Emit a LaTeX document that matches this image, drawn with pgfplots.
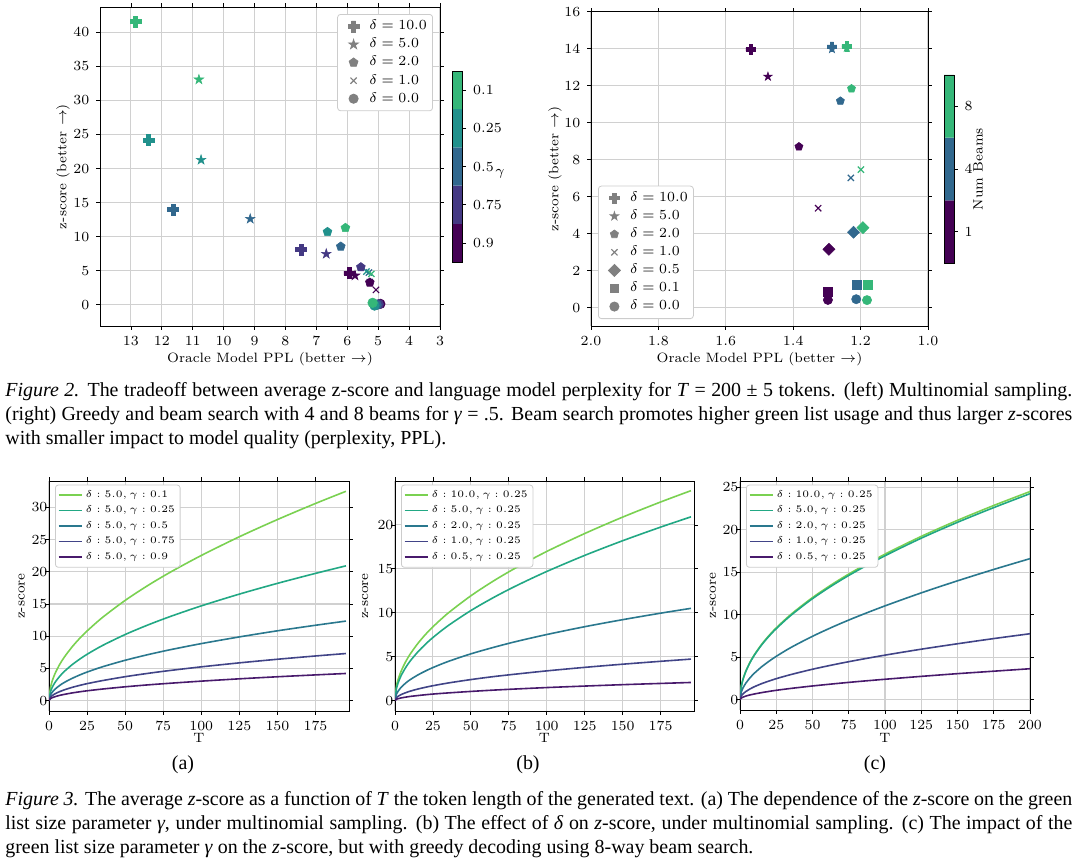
\documentclass[border=0pt]{standalone}
\usepackage{fontspec}
\usepackage{pgfplots}
\pgfplotsset{compat=1.18}
\usetikzlibrary{plotmarks}
\newfontfamily\capfont{Liberation Serif}

\definecolor{c01}{HTML}{35B779}
\definecolor{c025}{HTML}{21918C}
\definecolor{c05}{HTML}{31688E}
\definecolor{c075}{HTML}{443983}
\definecolor{c09}{HTML}{440154}
\definecolor{l1}{HTML}{7AD151}
\definecolor{l2}{HTML}{22A884}
\definecolor{l3}{HTML}{2A788E}
\definecolor{l4}{HTML}{414487}
\definecolor{l5}{HTML}{481A6C}
\definecolor{gridc}{HTML}{D0D0D0}
\definecolor{legc}{HTML}{CCCCCC}
\definecolor{mgray}{HTML}{808080}

\pgfdeclareplotmark{Pfill}{%
  \pgfpathmoveto{\pgfqpoint{-\pgfplotmarksize}{-0.36\pgfplotmarksize}}%
  \pgfpathlineto{\pgfqpoint{-0.36\pgfplotmarksize}{-0.36\pgfplotmarksize}}%
  \pgfpathlineto{\pgfqpoint{-0.36\pgfplotmarksize}{-\pgfplotmarksize}}%
  \pgfpathlineto{\pgfqpoint{0.36\pgfplotmarksize}{-\pgfplotmarksize}}%
  \pgfpathlineto{\pgfqpoint{0.36\pgfplotmarksize}{-0.36\pgfplotmarksize}}%
  \pgfpathlineto{\pgfqpoint{\pgfplotmarksize}{-0.36\pgfplotmarksize}}%
  \pgfpathlineto{\pgfqpoint{\pgfplotmarksize}{0.36\pgfplotmarksize}}%
  \pgfpathlineto{\pgfqpoint{0.36\pgfplotmarksize}{0.36\pgfplotmarksize}}%
  \pgfpathlineto{\pgfqpoint{0.36\pgfplotmarksize}{\pgfplotmarksize}}%
  \pgfpathlineto{\pgfqpoint{-0.36\pgfplotmarksize}{\pgfplotmarksize}}%
  \pgfpathlineto{\pgfqpoint{-0.36\pgfplotmarksize}{0.36\pgfplotmarksize}}%
  \pgfpathlineto{\pgfqpoint{-\pgfplotmarksize}{0.36\pgfplotmarksize}}%
  \pgfpathclose
  \pgfusepathqfillstroke}
\pgfdeclareplotmark{Sfill}{%
  \pgfpathmoveto{\pgfqpoint{0pt}{\pgfplotmarksize}}%
  \pgfpathlineto{\pgfqpoint{-0.2245\pgfplotmarksize}{0.309\pgfplotmarksize}}%
  \pgfpathlineto{\pgfqpoint{-0.951\pgfplotmarksize}{0.309\pgfplotmarksize}}%
  \pgfpathlineto{\pgfqpoint{-0.3633\pgfplotmarksize}{-0.118\pgfplotmarksize}}%
  \pgfpathlineto{\pgfqpoint{-0.588\pgfplotmarksize}{-0.809\pgfplotmarksize}}%
  \pgfpathlineto{\pgfqpoint{0pt}{-0.382\pgfplotmarksize}}%
  \pgfpathlineto{\pgfqpoint{0.588\pgfplotmarksize}{-0.809\pgfplotmarksize}}%
  \pgfpathlineto{\pgfqpoint{0.3633\pgfplotmarksize}{-0.118\pgfplotmarksize}}%
  \pgfpathlineto{\pgfqpoint{0.951\pgfplotmarksize}{0.309\pgfplotmarksize}}%
  \pgfpathlineto{\pgfqpoint{0.2245\pgfplotmarksize}{0.309\pgfplotmarksize}}%
  \pgfpathclose
  \pgfusepathqfillstroke}
\pgfdeclareplotmark{Dfill}{%
  \pgfpathmoveto{\pgfqpoint{0pt}{\pgfplotmarksize}}%
  \pgfpathlineto{\pgfqpoint{\pgfplotmarksize}{0pt}}%
  \pgfpathlineto{\pgfqpoint{0pt}{-\pgfplotmarksize}}%
  \pgfpathlineto{\pgfqpoint{-\pgfplotmarksize}{0pt}}%
  \pgfpathclose
  \pgfusepathqfillstroke}

\pgfplotsset{
  mplbase/.style={
    scale only axis,
    axis line style={line width=0.45bp,black},
    tick align=outside,
    major tick length=1.8bp,
    tick style={line width=0.4bp,black},
    grid=major,
    major grid style={line width=0.55bp,gridc},
    tick label style={font=\fontsize{6.6}{7}\selectfont},
    label style={font=\fontsize{6.8}{7}\selectfont},
    xlabel style={anchor=center},
    ylabel style={anchor=center},
  },
  topleg/.style={
    legend style={draw=legc, line width=0.4bp, rounded corners=1.5bp, fill=white,
      font=\fontsize{6.6}{7}\selectfont, inner sep=1.5bp, row sep=0pt,
      nodes={inner sep=1.35bp}, cells={anchor=west}},
    legend image code/.code={\path[draw=none,fill=none] (0bp,-2bp) rectangle (13bp,2bp);
      \draw[##1] plot coordinates {(6.5bp,0bp)};},
  },
  botleg/.style={
    yticklabel style={inner sep=0pt, xshift=1.2bp},
    legend style={draw=legc, line width=0.4bp, rounded corners=1.5bp, fill=white,
      font=\fontsize{5.2}{6}\selectfont, inner sep=1.2bp, row sep=0pt,
      nodes={inner sep=1.4bp}, cells={anchor=west},
      at={(axis description cs:0,1)}, anchor=north west, xshift=3bp, yshift=-1.8bp},
    legend image code/.code={\draw[##1, line width=0.8bp] (0bp,0bp) -- (11.7bp,0bp);},
  },
  gcls/.style={scatter/classes={
      a={draw=c01,fill=c01}, b={draw=c025,fill=c025}, c={draw=c05,fill=c05},
      d={draw=c075,fill=c075}, e={draw=c09,fill=c09}}},
  bcls/.style={scatter/classes={
      e={draw=c09,fill=c09}, c={draw=c05,fill=c05}, a={draw=c01,fill=c01}}},
  sc/.style={scatter, only marks, scatter src=explicit symbolic, forget plot,
      mark options={line width=0.3bp}},
  zl/.style={line width=0.8bp, smooth},
}

\begin{document}
\begin{tikzpicture}
\useasboundingbox (0bp,0bp) rectangle (540bp,-429bp);

% ---------------- Figure 2 left ----------------
\begin{axis}[mplbase, topleg, gcls,
  at={(50bp,-163bp)}, anchor=south west, width=170bp, height=159.5bp,
  x dir=reverse, xmin=3, xmax=14, ymin=-3.1, ymax=43.7,
  xtick={3,4,...,13}, ytick={0,5,...,40},
  xlabel={Oracle Model PPL (better $\rightarrow$)},
  ylabel={z-score (better $\rightarrow$)},
  xlabel style={at={(axis description cs:0.5,-0.1034)}},
  ylabel style={at={(axis description cs:-0.1088,0.5)}},
  legend style={at={(axis description cs:1,1)}, xshift=-3.5bp, yshift=-3.5bp, anchor=north east},
]
\addlegendimage{only marks, mark=Pfill, mark size=2.75bp, mgray}
\addlegendentry{$\delta=10.0$}
\addlegendimage{only marks, mark=Sfill, mark size=2.5bp, mgray}
\addlegendentry{$\delta=5.0$}
\addlegendimage{only marks, mark=pentagon*, mark size=2.3bp, mgray}
\addlegendentry{$\delta=2.0$}
\addlegendimage{only marks, mark=x, mark size=2.2bp, mgray, mark options={line width=0.55bp}}
\addlegendentry{$\delta=1.0$}
\addlegendimage{only marks, mark=*, mark size=2.3bp, mgray}
\addlegendentry{$\delta=0.0$}

\addplot[sc, mark=Pfill, mark size=2.75bp] table[meta=g] {
x y g
12.85 41.56 a
12.43 24.16 b
11.63 13.99 c
7.49 8.12 d
5.93 4.65 e
};
\addplot[sc, mark=Sfill, mark size=2.5bp] table[meta=g] {
x y g
10.80 33.06 a
10.73 21.27 b
9.14 12.62 c
6.68 7.48 d
5.75 4.30 e
};
\addplot[sc, mark=x, mark size=2.2bp, mark options={line width=0.6bp}] table[meta=g] {
x y g
5.27 3.35 d
5.30 4.75 c
5.38 4.90 b
5.22 4.55 a
5.07 2.20 e
};
\addplot[sc, mark=pentagon*, mark size=2.3bp] table[meta=g] {
x y g
6.06 11.30 a
6.64 10.71 b
6.21 8.56 c
5.56 5.53 d
5.27 3.28 e
};
\addplot[sc, mark=*, mark size=2.4bp] table[meta=g] {
x y g
4.93 0.15 e
4.98 0.10 d
5.05 0.00 c
5.12 -0.10 b
5.18 0.30 a
};
\end{axis}

% colorbar gamma
\begin{axis}[scale only axis, at={(226.3bp,-131bp)}, anchor=south west,
  width=5bp, height=95.5bp, xmin=0, xmax=1, ymin=0, ymax=5,
  axis on top, axis line style={line width=0.45bp,black},
  xtick=\empty, ytick={0.5,1.5,2.5,3.5,4.5},
  yticklabels={$0.9$,$0.75$,$0.5$,$0.25$,$0.1$},
  ytick pos=right, yticklabel pos=right, tick align=outside,
  major tick length=1.8bp, tick style={line width=0.4bp,black},
  tick label style={font=\fontsize{6.6}{7}\selectfont},
]
\addplot[draw=none, fill=c09] coordinates {(0,0) (1,0) (1,1) (0,1) (0,0)};
\addplot[draw=none, fill=c075] coordinates {(0,1) (1,1) (1,2) (0,2) (0,1)};
\addplot[draw=none, fill=c05] coordinates {(0,2) (1,2) (1,3) (0,3) (0,2)};
\addplot[draw=none, fill=c025] coordinates {(0,3) (1,3) (1,4) (0,4) (0,3)};
\addplot[draw=none, fill=c01] coordinates {(0,4) (1,4) (1,5) (0,5) (0,4)};
\end{axis}
\node[font=\fontsize{6.8}{7}\selectfont] at (250bp,-87bp) {$\gamma$};

% ---------------- Figure 2 right ----------------
\begin{axis}[mplbase, topleg, bcls,
  at={(295.5bp,-163bp)}, anchor=south west, width=168.5bp, height=157.15bp,
  x dir=reverse, xmin=1, xmax=2, ymin=-1, ymax=16,
  xtick={1.0,1.2,...,2.0}, ytick={0,2,...,16},
  xticklabel style={/pgf/number format/.cd, fixed, fixed zerofill, precision=1},
  xlabel={Oracle Model PPL (better $\rightarrow$)},
  ylabel={z-score (better $\rightarrow$)},
  xlabel style={at={(axis description cs:0.5,-0.105)}},
  ylabel style={at={(axis description cs:-0.1068,0.5)}},
  legend style={at={(axis description cs:0,0)}, xshift=3.5bp, yshift=3.5bp, anchor=south west},
]
\addlegendimage{only marks, mark=Pfill, mark size=2.4bp, mgray}
\addlegendentry{$\delta=10.0$}
\addlegendimage{only marks, mark=Sfill, mark size=2.2bp, mgray}
\addlegendentry{$\delta=5.0$}
\addlegendimage{only marks, mark=pentagon*, mark size=2.1bp, mgray}
\addlegendentry{$\delta=2.0$}
\addlegendimage{only marks, mark=x, mark size=2.2bp, mgray, mark options={line width=0.55bp}}
\addlegendentry{$\delta=1.0$}
\addlegendimage{only marks, mark=Dfill, mark size=3.0bp, mgray}
\addlegendentry{$\delta=0.5$}
\addlegendimage{only marks, mark=square*, mark size=2.2bp, mgray}
\addlegendentry{$\delta=0.1$}
\addlegendimage{only marks, mark=*, mark size=2.3bp, mgray}
\addlegendentry{$\delta=0.0$}

\addplot[sc, mark=Sfill, mark size=2.2bp] table[meta=g] {
x y g
1.475 12.49 e
1.285 13.98 c
1.241 14.05 a
};
\addplot[sc, mark=Pfill, mark size=2.4bp] table[meta=g] {
x y g
1.526 13.96 e
1.285 14.11 c
1.241 14.14 a
};
\addplot[sc, mark=pentagon*, mark size=2.1bp] table[meta=g] {
x y g
1.383 8.70 e
1.260 11.17 c
1.227 11.84 a
};
\addplot[sc, mark=x, mark size=2.2bp, mark options={line width=0.6bp}] table[meta=g] {
x y g
1.326 5.37 e
1.229 7.01 c
1.199 7.46 a
};
\addplot[sc, mark=Dfill, mark size=3.0bp] table[meta=g] {
x y g
1.294 3.15 e
1.221 4.07 c
1.193 4.32 a
};
\addplot[sc, mark=square*, mark size=2.2bp] table[meta=g] {
x y g
1.297 0.86 e
1.211 1.23 c
1.179 1.23 a
};
\addplot[sc, mark=*, mark size=2.3bp] table[meta=g] {
x y g
1.297 0.41 e
1.213 0.45 c
1.181 0.40 a
};
\end{axis}

% colorbar beams
\begin{axis}[scale only axis, at={(472bp,-131.5bp)}, anchor=south west,
  width=5bp, height=94bp, xmin=0, xmax=1, ymin=0, ymax=3,
  axis on top, axis line style={line width=0.45bp,black},
  xtick=\empty, ytick={0.5,1.5,2.5},
  yticklabels={$1$,$4$,$8$},
  ytick pos=right, yticklabel pos=right, tick align=outside,
  major tick length=1.8bp, tick style={line width=0.4bp,black},
  tick label style={font=\fontsize{6.6}{7}\selectfont},
]
\addplot[draw=none, fill=c09] coordinates {(0,0) (1,0) (1,1) (0,1) (0,0)};
\addplot[draw=none, fill=c05] coordinates {(0,1) (1,1) (1,2) (0,2) (0,1)};
\addplot[draw=none, fill=c01] coordinates {(0,2) (1,2) (1,3) (0,3) (0,2)};
\end{axis}
\node[font=\fontsize{6.8}{7}\selectfont, rotate=90] at (489bp,-84.5bp) {Num Beams};

% ---------------- captions Figure 2 ----------------
\node[anchor=base west, inner sep=0pt, font=\capfont\fontsize{10}{12}\selectfont] at (2.5bp,-198bp)
 {\makebox[533.5bp][s]{\textit{Figure 2.} The tradeoff between average z-score and language model perplexity for \textit{T} = 200 ± 5 tokens. (left) Multinomial sampling.}};
\node[anchor=base west, inner sep=0pt, font=\capfont\fontsize{10}{12}\selectfont] at (2.5bp,-210bp)
 {\makebox[533.5bp][s]{(right) Greedy and beam search with 4 and 8 beams for \textit{γ} = .5. Beam search promotes higher green list usage and thus larger \textit{z}-scores}};
\node[anchor=base west, inner sep=0pt, font=\capfont\fontsize{10}{12}\selectfont] at (2.5bp,-222bp)
 {with smaller impact to model quality (perplexity, PPL).};

% ---------------- Figure 3 (a) ----------------
\begin{axis}[mplbase, botleg,
  at={(24.5bp,-355.5bp)}, anchor=south west, width=150bp, height=115bp,
  xmin=0, xmax=197, ymin=-1.63, ymax=34.1,
  xtick={0,25,...,175}, ytick={0,5,...,30},
  xlabel={T}, ylabel={z-score},
  xlabel style={at={(axis description cs:0.5,-0.117)}},
  ylabel style={at={(axis description cs:-0.091,0.5)}},
]
\addplot[l1, zl] coordinates {(0,0) (1,2.09) (2,2.96) (4,4.21) (7,5.60) (10,6.72) (15,8.28) (20,9.62) (25,10.8) (35,12.88) (50,15.55) (65,17.88) (80,19.98) (100,22.53) (125,25.44) (150,28.11) (175,30.61) (195,32.5)};
\addlegendentry{$\delta: 5.0, \gamma: 0.1$}
\addplot[l2, zl] coordinates {(0,0) (1,1.41) (2,1.99) (4,2.83) (7,3.75) (10,4.50) (15,5.53) (20,6.40) (25,7.18) (35,8.53) (50,10.25) (65,11.74) (80,13.08) (100,14.70) (125,16.53) (150,18.20) (175,19.75) (195,20.92)};
\addlegendentry{$\delta: 5.0, \gamma: 0.25$}
\addplot[l3, zl] coordinates {(0,0) (1,0.88) (2,1.25) (4,1.77) (7,2.34) (10,2.80) (15,3.42) (20,3.95) (25,4.42) (35,5.23) (50,6.25) (65,7.13) (80,7.91) (100,8.84) (125,9.88) (150,10.83) (175,11.69) (195,12.34)};
\addlegendentry{$\delta: 5.0, \gamma: 0.5$}
\addplot[l4, zl] coordinates {(0,0) (1,0.52) (2,0.74) (4,1.05) (7,1.38) (10,1.65) (15,2.03) (20,2.34) (25,2.62) (35,3.09) (50,3.70) (65,4.22) (80,4.68) (100,5.23) (125,5.85) (150,6.41) (175,6.92) (195,7.30)};
\addlegendentry{$\delta: 5.0, \gamma: 0.75$}
\addplot[l5, zl] coordinates {(0,0) (1,0.30) (2,0.43) (4,0.60) (7,0.80) (10,0.95) (15,1.17) (20,1.35) (25,1.51) (35,1.78) (50,2.13) (65,2.43) (80,2.69) (100,3.01) (125,3.37) (150,3.69) (175,3.98) (195,4.20)};
\addlegendentry{$\delta: 5.0, \gamma: 0.9$}
\end{axis}

% ---------------- Figure 3 (b) ----------------
\begin{axis}[mplbase, botleg,
  at={(197.5bp,-355.5bp)}, anchor=south west, width=149.5bp, height=115bp,
  xmin=0, xmax=197, ymin=-1.19, ymax=25.0,
  xtick={0,25,...,175}, ytick={0,5,...,20},
  xlabel={T}, ylabel={z-score},
  xlabel style={at={(axis description cs:0.5,-0.117)}},
  ylabel style={at={(axis description cs:-0.100,0.5)}},
]
\addplot[l1, zl] coordinates {(0,0) (1,1.67) (2,2.36) (4,3.33) (7,4.42) (10,5.29) (15,6.49) (20,7.51) (25,8.40) (35,9.96) (50,11.93) (65,13.63) (80,15.15) (100,16.98) (125,19.02) (150,20.89) (175,22.61) (195,23.90)};
\addlegendentry{$\delta: 10.0, \gamma: 0.25$}
\addplot[l2, zl] coordinates {(0,0) (1,1.41) (2,1.99) (4,2.83) (7,3.75) (10,4.50) (15,5.53) (20,6.40) (25,7.18) (35,8.53) (50,10.25) (65,11.74) (80,13.08) (100,14.70) (125,16.53) (150,18.20) (175,19.75) (195,20.92)};
\addlegendentry{$\delta: 5.0, \gamma: 0.25$}
\addplot[l3, zl] coordinates {(0,0) (1,0.75) (2,1.06) (4,1.50) (7,1.99) (10,2.38) (15,2.91) (20,3.36) (25,3.76) (35,4.45) (50,5.32) (65,6.06) (80,6.73) (100,7.52) (125,8.41) (150,9.21) (175,9.95) (195,10.50)};
\addlegendentry{$\delta: 2.0, \gamma: 0.25$}
\addplot[l4, zl] coordinates {(0,0) (1,0.34) (2,0.48) (4,0.68) (7,0.89) (10,1.07) (15,1.31) (20,1.51) (25,1.69) (35,2.00) (50,2.39) (65,2.73) (80,3.02) (100,3.38) (125,3.78) (150,4.14) (175,4.47) (195,4.72)};
\addlegendentry{$\delta: 1.0, \gamma: 0.25$}
\addplot[l5, zl] coordinates {(0,0) (1,0.15) (2,0.21) (4,0.30) (7,0.39) (10,0.47) (15,0.57) (20,0.66) (25,0.74) (35,0.87) (50,1.04) (65,1.19) (80,1.32) (100,1.48) (125,1.65) (150,1.81) (175,1.95) (195,2.06)};
\addlegendentry{$\delta: 0.5, \gamma: 0.25$}
\end{axis}

% ---------------- Figure 3 (c) ----------------
\begin{axis}[mplbase, botleg,
  at={(370bp,-355bp)}, anchor=south west, width=145bp, height=114.5bp,
  xmin=0, xmax=200, ymin=-1.22, ymax=25.74,
  xtick={0,25,...,200}, ytick={0,5,...,25},
  xlabel={T}, ylabel={z-score},
  xlabel style={at={(axis description cs:0.5,-0.122)}},
  ylabel style={at={(axis description cs:-0.093,0.5)}},
]
\addplot[l1, zl] coordinates {(0,0) (1,1.67) (2,2.37) (4,3.35) (7,4.44) (10,5.32) (15,6.53) (20,7.55) (25,8.45) (35,10.02) (50,12.02) (65,13.74) (80,15.28) (100,17.13) (125,19.22) (150,21.11) (175,22.86) (200,24.50)};
\addlegendentry{$\delta: 10.0, \gamma: 0.25$}
\addplot[l2, zl] coordinates {(0,0) (1,1.65) (2,2.34) (4,3.31) (7,4.39) (10,5.26) (15,6.46) (20,7.47) (25,8.36) (35,9.91) (50,11.89) (65,13.59) (80,15.11) (100,16.94) (125,19.01) (150,20.88) (175,22.61) (200,24.25)};
\addlegendentry{$\delta: 5.0, \gamma: 0.25$}
\addplot[l3, zl] coordinates {(0,0) (1,0.95) (2,1.36) (4,1.94) (7,2.59) (10,3.13) (15,3.88) (20,4.52) (25,5.10) (35,6.13) (50,7.46) (65,8.64) (80,9.72) (100,11.04) (125,12.57) (150,13.99) (175,15.33) (200,16.60)};
\addlegendentry{$\delta: 2.0, \gamma: 0.25$}
\addplot[l4, zl] coordinates {(0,0) (1,0.47) (2,0.67) (4,0.95) (7,1.27) (10,1.53) (15,1.89) (20,2.19) (25,2.47) (35,2.95) (50,3.58) (65,4.13) (80,4.63) (100,5.24) (125,5.94) (150,6.58) (175,7.19) (200,7.76)};
\addlegendentry{$\delta: 1.0, \gamma: 0.25$}
\addplot[l5, zl] coordinates {(0,0) (1,0.20) (2,0.29) (4,0.42) (7,0.56) (10,0.67) (15,0.83) (20,0.97) (25,1.10) (35,1.32) (50,1.61) (65,1.87) (80,2.11) (100,2.40) (125,2.74) (150,3.06) (175,3.35) (200,3.64)};
\addlegendentry{$\delta: 0.5, \gamma: 0.25$}
\end{axis}

% sub-captions
\node[font=\capfont\fontsize{10}{12}\selectfont] at (91.5bp,-382.5bp) {(a)};
\node[font=\capfont\fontsize{10}{12}\selectfont] at (264bp,-382.5bp) {(b)};
\node[font=\capfont\fontsize{10}{12}\selectfont] at (437.5bp,-382.5bp) {(c)};

% ---------------- captions Figure 3 ----------------
\node[anchor=base west, inner sep=0pt, font=\capfont\fontsize{10}{12}\selectfont] at (2.5bp,-402.5bp)
 {\makebox[533.5bp][s]{\textit{Figure 3.} The average \textit{z}-score as a function of \textit{T} the token length of the generated text. (a) The dependence of the \textit{z}-score on the green}};
\node[anchor=base west, inner sep=0pt, font=\capfont\fontsize{10}{12}\selectfont] at (2.5bp,-414.5bp)
 {\makebox[533.5bp][s]{list size parameter \textit{γ}, under multinomial sampling. (b) The effect of \textit{δ} on \textit{z}-score, under multinomial sampling. (c) The impact of the}};
\node[anchor=base west, inner sep=0pt, font=\capfont\fontsize{10}{12}\selectfont] at (2.5bp,-426.5bp)
 {green list size parameter \textit{γ} on the \textit{z}-score, but with greedy decoding using 8-way beam search.};
\end{tikzpicture}
\end{document}
